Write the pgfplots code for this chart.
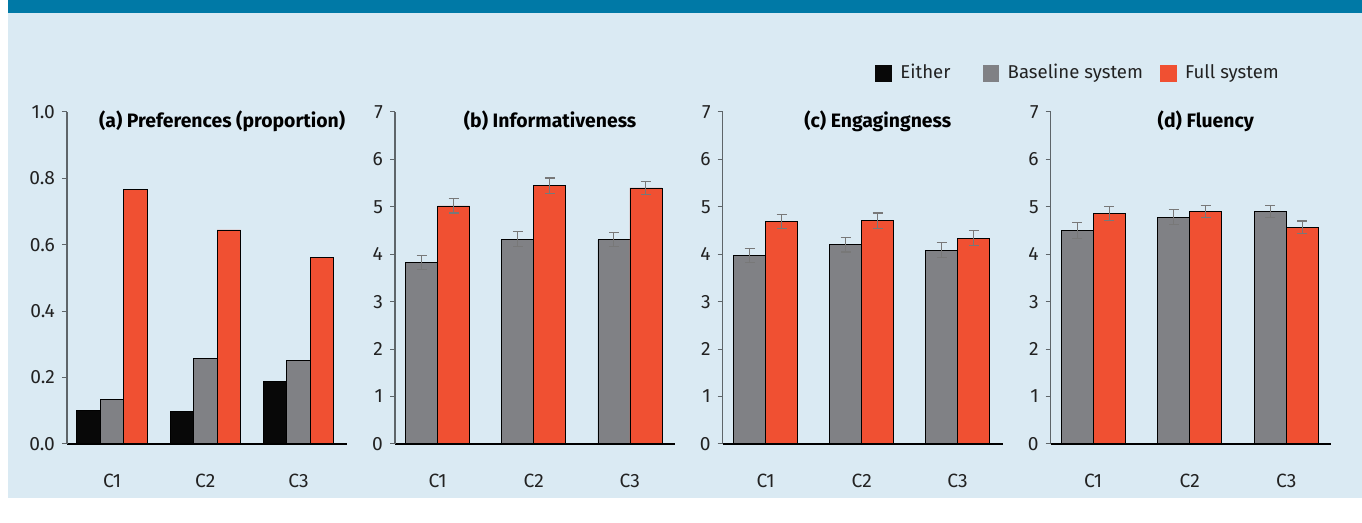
\documentclass[border=0pt]{standalone}
\usepackage{pgfplots}
\pgfplotsset{compat=1.18}
\usepackage{fontspec}
\setmainfont{Fira Sans}
\definecolor{bgblue}{RGB}{218,234,243}
\definecolor{band}{RGB}{0,121,166}
\definecolor{redbar}{RGB}{240,80,50}
\definecolor{graybar}{RGB}{128,129,133}
\definecolor{blackbar}{RGB}{8,8,8}
\definecolor{errgray}{RGB}{120,120,120}
\definecolor{axisgray}{RGB}{94,101,105}
\definecolor{txt}{RGB}{34,34,34}
\pgfplotsset{
  panel/.style={
    at={(#1,39.5pt)}, anchor=south west,
    scale only axis, width=140pt, height=166pt,
    axis on top,
    axis x line*=bottom, axis y line*=left,
    x axis line style={-, black, line width=1.1pt},
    y axis line style={-, axisgray, line width=0.6pt},
    xtick={0,1,2}, xticklabels={C1,C2,C3},
    xtick style={draw=none},
    ytick style={draw=axisgray, line width=0.5pt},
    tick align=outside, major tick length=2.5pt,
    ymin=0,
    ybar=0pt,
    tick label style={font=\fontsize{9.6}{11}\selectfont, text=txt},
    xticklabel style={yshift=-9pt},
    /pgf/number format/assume math mode=true,
    clip=false,
  },
  barb/.style={draw=black, line width=0.35pt, fill=#1},
  sq/.style={legend image code/.code={\fill[##1, draw=none] (0pt,-4.2pt) rectangle (8.4pt,4.2pt); \path (10.4pt,0pt);}},
  eb/.style={error bars/.cd, y dir=both, y explicit,
    error bar style={errgray, line width=0.6pt},
    error mark options={errgray, line width=0.6pt, mark size=2.5pt, rotate=90}, /pgfplots/.cd},
}
\tikzset{ptitle/.style={anchor=center, font=\bfseries\fontsize{9.7}{11}\selectfont, text=black}}
\begin{document}
\begin{tikzpicture}
\fill[white] (0,0) rectangle (681pt,261.5pt);
\fill[bgblue] (4pt,12.5pt) rectangle (681pt,255pt);
\fill[band] (4pt,255pt) rectangle (681pt,261.5pt);
% (a)
\begin{axis}[panel=33.5pt, xmin=-0.483, xmax=2.52, ymax=1.0,
  ytick={0,0.2,0.4,0.6,0.8,1.0},
  yticklabel style={/pgf/number format/.cd, fixed, fixed zerofill, precision=1},
  bar width=11.75pt]
\addplot[barb=blackbar] coordinates {(0,0.100) (1,0.097) (2,0.189)};
\addplot[barb=graybar] coordinates {(0,0.135) (1,0.258) (2,0.251)};
\addplot[barb=redbar] coordinates {(0,0.767) (1,0.645) (2,0.562)};
\node[ptitle] at (rel axis cs:0.554,0.973) {(a) Preferences (proportion)};
\end{axis}
% (b)
\begin{axis}[panel=197.5pt, xmin=-0.445, xmax=2.47, ymax=7, ytick={0,...,7},
  bar width=16pt]
\addplot[barb=graybar, eb] coordinates {(0,3.83) +- (0,0.145) (1,4.32) +- (0,0.16) (2,4.31) +- (0,0.15)};
\addplot[barb=redbar, eb] coordinates {(0,5.02) +- (0,0.15) (1,5.45) +- (0,0.16) (2,5.40) +- (0,0.14)};
\node[ptitle] at (rel axis cs:0.554,0.973) {(b) Informativeness};
\end{axis}
% (c)
\begin{axis}[panel=361.35pt, xmin=-0.448, xmax=2.47, ymax=7, ytick={0,...,7},
  bar width=16pt]
\addplot[barb=graybar, eb] coordinates {(0,3.97) +- (0,0.15) (1,4.20) +- (0,0.15) (2,4.09) +- (0,0.15)};
\addplot[barb=redbar, eb] coordinates {(0,4.69) +- (0,0.15) (1,4.71) +- (0,0.16) (2,4.34) +- (0,0.16)};
\node[ptitle] at (rel axis cs:0.554,0.973) {(c) Engagingness};
\end{axis}
% (d)
\begin{axis}[panel=525.35pt, xmin=-0.44, xmax=2.46, ymax=7, ytick={0,...,7},
  bar width=16pt,
  legend columns=3,
  legend style={draw=none, fill=none, at={(0.852,1.117)}, anchor=east,
    font=\fontsize{9.3}{10}\selectfont, text=txt,
    /tikz/column 2/.style={column sep=14pt},
    /tikz/column 4/.style={column sep=6.5pt}},
  legend entries={Either, Baseline system, Full system}]
\addlegendimage{sq, fill=blackbar}
\addplot[barb=graybar, sq, eb] coordinates {(0,4.50) +- (0,0.17) (1,4.78) +- (0,0.16) (2,4.90) +- (0,0.13)};
\addplot[barb=redbar, sq, eb] coordinates {(0,4.86) +- (0,0.15) (1,4.90) +- (0,0.13) (2,4.57) +- (0,0.13)};
\node[ptitle] at (rel axis cs:0.554,0.973) {(d) Fluency};
\end{axis}
\pgfresetboundingbox
\useasboundingbox (0,0) rectangle (681pt,261.5pt);
\end{tikzpicture}
\end{document}
